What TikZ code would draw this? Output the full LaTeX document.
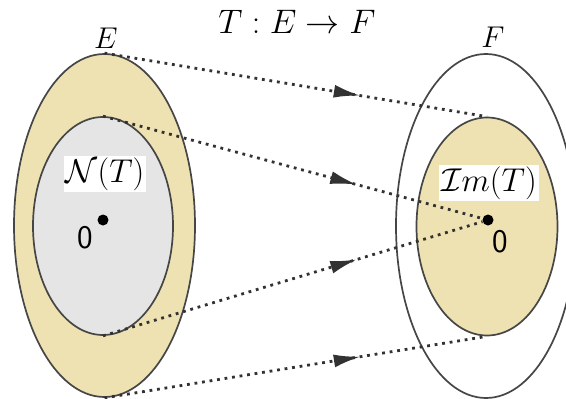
\documentclass[tikz,border=0pt]{standalone}
\usepackage{fix-cm}
\usetikzlibrary{shapes.geometric,arrows.meta,decorations.markings}
\definecolor{khaki}{RGB}{238,226,178}
\definecolor{lgray}{RGB}{229,229,229}
\definecolor{edge}{RGB}{70,70,70}
\definecolor{dotc}{RGB}{50,50,50}
\tikzset{
  setshape/.style={ellipse, draw=edge, line width=1.7pt, inner sep=0pt},
  mapline/.style={dotc, line width=2.8pt, dash pattern=on 2.8pt off 4.8pt,
    postaction={decorate, decoration={markings,
      mark=at position 0.67 with {\arrow[dotc]{Latex[length=27pt,width=13pt]}}}}},
  zerodot/.style={circle, fill=black, inner sep=0pt, minimum size=11pt},
  lab/.style={font=\fontsize{34}{40}\selectfont},
  setlab/.style={font=\fontsize{30}{36}\selectfont},
  zerolab/.style={font=\fontsize{33}{40}\selectfont\sffamily},
  boxlab/.style={fill=white, inner sep=2pt, font=\fontsize{33}{40}\selectfont}
}
\begin{document}
\begin{tikzpicture}[x=1pt,y=-1pt]
\useasboundingbox (0,0) rectangle (566,399);
% left sets
\node[setshape, fill=khaki, minimum width=181pt, minimum height=343pt] (E) at (104.5,225.5) {};
\node[setshape, fill=lgray, minimum width=140pt, minimum height=218pt] (N) at (103,226) {};
% right sets
\node[setshape, fill=white, minimum width=180pt, minimum height=344pt] (F) at (486,226) {};
\node[setshape, fill=khaki, minimum width=141pt, minimum height=218pt] (I) at (487,226.5) {};
% labels
\node[lab] (title) at (297,22) {$T:E\rightarrow F$};
\node[setlab] (Elab) at (106,38) {$E$};
\node[setlab] (Flab) at (493,37) {$F$};
\node[boxlab] (Nlab) at (105,174) {$\mathcal{N}(T)$};
\node[boxlab] (Ilab) at (489,183) {$\mathcal{I}m(T)$};
% zeros
\node[zerodot] (z1) at (103,220) {};
\node[zerodot] (z2) at (488,220) {};
\node[zerolab] (o1) at (85,238) {0};
\node[zerolab] (o2) at (500,242) {0};
% maps
\draw[mapline] (E.north) -- (I.north);
\draw[mapline] (N.north) -- (z2);
\draw[mapline] (N.south) -- (z2);
\draw[mapline] (E.south) -- (I.south);
\end{tikzpicture}
\end{document}
